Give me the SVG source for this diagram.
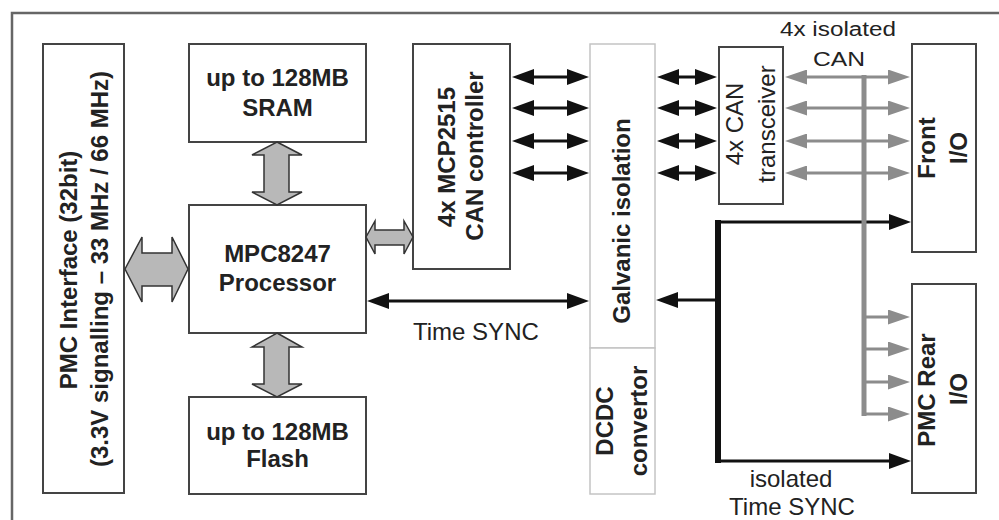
<svg xmlns="http://www.w3.org/2000/svg" width="999" height="520" viewBox="0 0 999 520">
<style>
  .frame { fill: none; stroke: #666; stroke-width: 2.5; }
  .box { fill: #fff; stroke: #444; stroke-width: 2; }
  .lbox { fill: #fff; stroke: #c4c4c4; stroke-width: 1.5; }
  text { font-family: "Liberation Sans", Arial, sans-serif; fill: #222; font-size: 24px; }
  .b { font-weight: bold; }
  .m { text-anchor: middle; }
  .bus { fill: #b8b8b8; stroke: #333; stroke-width: 1.5; stroke-linejoin: miter; }
  .blk { stroke: #111; stroke-width: 3; fill: none; }
  .gry { stroke: #8c8c8c; stroke-width: 3; fill: none; }
</style>
<defs>
  <marker id="hb" viewBox="0 0 22 16" refX="12" refY="8" markerWidth="22" markerHeight="16" markerUnits="userSpaceOnUse" orient="auto-start-reverse">
    <path d="M0,0 L22,8 L0,16 z" fill="#111"/>
  </marker>
  <marker id="hg" viewBox="0 0 22 15" refX="12" refY="7.5" markerWidth="22" markerHeight="15" markerUnits="userSpaceOnUse" orient="auto-start-reverse">
    <path d="M0,0 L22,7.5 L0,15 z" fill="#8c8c8c"/>
  </marker>
</defs>

<rect class="frame" x="12" y="13" width="1000" height="520"/>

<g id="pmc-interface">
  <rect class="box" x="43" y="44" width="81" height="449"/>
  <text class="b m" transform="translate(77,270) rotate(-90)">PMC Interface (32bit)</text>
  <text class="b m" transform="translate(108,269) rotate(-90)">(3.3V signalling – 33 MHz / 66 MHz)</text>
</g>

<g id="sram">
  <rect class="box" x="189" y="44" width="177" height="98"/>
  <text class="b m" x="277.5" y="86">up to 128MB</text>
  <text class="b m" x="277.5" y="116">SRAM</text>
</g>

<g id="processor">
  <rect class="box" x="189" y="205" width="177" height="128"/>
  <text class="b m" x="277.5" y="262">MPC8247</text>
  <text class="b m" x="277.5" y="291">Processor</text>
</g>

<g id="flash">
  <rect class="box" x="189" y="397" width="177" height="97"/>
  <text class="b m" x="277.5" y="440">up to 128MB</text>
  <text class="b m" x="277.5" y="467">Flash</text>
</g>

<g id="can-controller">
  <rect class="box" x="413" y="44" width="97" height="225"/>
  <text class="b m" transform="translate(455,157) rotate(-90)">4x MCP2515</text>
  <text class="b m" transform="translate(483,156) rotate(-90)">CAN controller</text>
</g>

<g id="galvanic-isolation">
  <rect class="lbox" x="590" y="44" width="65" height="304"/>
  <text class="b m" transform="translate(630,221) rotate(-90)">Galvanic isolation</text>
</g>

<g id="dcdc-convertor">
  <rect class="lbox" x="590" y="348" width="65" height="146"/>
  <text class="b m" transform="translate(613,421) rotate(-90)">DCDC</text>
  <text class="b m" transform="translate(647,421) rotate(-90)">convertor</text>
</g>

<g id="can-transceiver">
  <rect class="box" x="719" y="47" width="64" height="157"/>
  <text class="m" transform="translate(743,124) rotate(-90)">4x CAN</text>
  <text class="m" transform="translate(775,124) rotate(-90)">transceiver</text>
</g>

<g id="front-io">
  <rect class="box" x="912" y="44" width="64" height="208"/>
  <text class="b m" transform="translate(935,148) rotate(-90)">Front</text>
  <text class="b m" transform="translate(967,148) rotate(-90)">I/O</text>
</g>

<g id="pmc-rear-io">
  <rect class="box" x="912" y="284" width="64" height="209"/>
  <text class="b m" transform="translate(935,390) rotate(-90)">PMC Rear</text>
  <text class="b m" transform="translate(967,389) rotate(-90)">I/O</text>
</g>

<g id="connectors">
  <!-- block bus arrows -->
  <polygon class="bus" points="277,142 302,155 289,155 289,192 302,192 277,205 252,192 264,192 264,155 252,155"/>
  <polygon class="bus" points="277,333 302,347 289,347 289,384 302,384 277,397 252,384 264,384 264,347 252,347"/>
  <polygon class="bus" points="125,269 142,237 142,253 172,253 172,237 188,269 172,302 172,286 142,286 142,302"/>
  <polygon class="bus" points="366,237 375,221 375,230 404,230 404,221 413,237 404,254 404,245 375,245 375,254"/>

  <!-- CAN controller to galvanic isolation -->
  <line class="blk" x1="522" y1="77" x2="579" y2="77" marker-start="url(#hb)" marker-end="url(#hb)"/>
  <line class="blk" x1="522" y1="108" x2="579" y2="108" marker-start="url(#hb)" marker-end="url(#hb)"/>
  <line class="blk" x1="522" y1="141" x2="579" y2="141" marker-start="url(#hb)" marker-end="url(#hb)"/>
  <line class="blk" x1="522" y1="173" x2="579" y2="173" marker-start="url(#hb)" marker-end="url(#hb)"/>

  <!-- galvanic isolation to transceiver -->
  <line class="blk" x1="667" y1="77" x2="707" y2="77" marker-start="url(#hb)" marker-end="url(#hb)"/>
  <line class="blk" x1="667" y1="108" x2="707" y2="108" marker-start="url(#hb)" marker-end="url(#hb)"/>
  <line class="blk" x1="667" y1="141" x2="707" y2="141" marker-start="url(#hb)" marker-end="url(#hb)"/>
  <line class="blk" x1="667" y1="173" x2="707" y2="173" marker-start="url(#hb)" marker-end="url(#hb)"/>

  <!-- Time SYNC processor to galvanic -->
  <line class="blk" x1="377" y1="301" x2="579" y2="301" marker-start="url(#hb)" marker-end="url(#hb)"/>

  <!-- isolated Time SYNC distribution -->
  <line class="blk" x1="718" y1="300" x2="666" y2="300" marker-end="url(#hb)"/>
  <line class="blk" x1="716" y1="222" x2="901" y2="222" marker-end="url(#hb)"/>
  <line class="blk" x1="716" y1="461" x2="901" y2="461" marker-end="url(#hb)"/>
  <line x1="718" y1="220" x2="718" y2="463" stroke="#111" stroke-width="6"/>

  <!-- isolated CAN bus -->
  <line x1="864" y1="75" x2="864" y2="416" stroke="#8c8c8c" stroke-width="5"/>
  <line class="gry" x1="795" y1="77" x2="900" y2="77" marker-start="url(#hg)" marker-end="url(#hg)"/>
  <line class="gry" x1="795" y1="108" x2="900" y2="108" marker-start="url(#hg)" marker-end="url(#hg)"/>
  <line class="gry" x1="795" y1="141" x2="900" y2="141" marker-start="url(#hg)" marker-end="url(#hg)"/>
  <line class="gry" x1="795" y1="173" x2="900" y2="173" marker-start="url(#hg)" marker-end="url(#hg)"/>
  <line class="gry" x1="864" y1="317" x2="900" y2="317" marker-end="url(#hg)"/>
  <line class="gry" x1="864" y1="349" x2="900" y2="349" marker-end="url(#hg)"/>
  <line class="gry" x1="864" y1="382" x2="900" y2="382" marker-end="url(#hg)"/>
  <line class="gry" x1="864" y1="414" x2="900" y2="414" marker-end="url(#hg)"/>
</g>

<g id="labels">
  <text class="m" x="838" y="36" textLength="116" lengthAdjust="spacingAndGlyphs" style="font-size:20px">4x isolated</text>
  <text class="m" x="839" y="66" textLength="52" lengthAdjust="spacingAndGlyphs" style="font-size:20px">CAN</text>
  <text x="413" y="340">Time SYNC</text>
  <text class="m" x="791" y="487">isolated</text>
  <text class="m" x="792" y="515">Time SYNC</text>
</g>
</svg>
